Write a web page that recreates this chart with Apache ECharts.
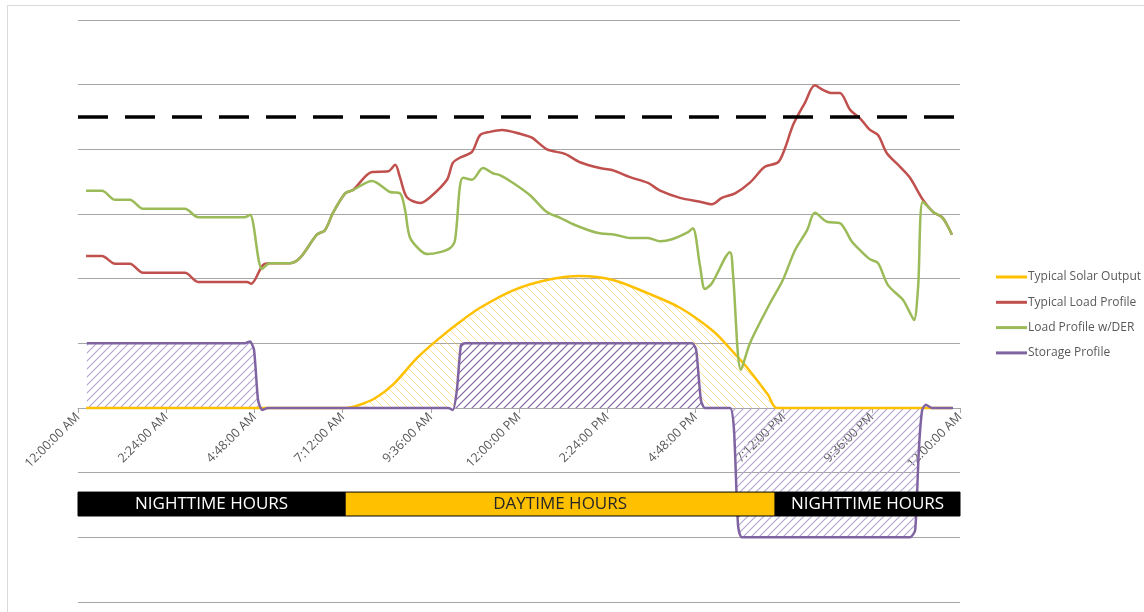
<!DOCTYPE html>
<html>
<head>
<meta charset="utf-8">
<script src="https://cdn.jsdelivr.net/npm/echarts@6/dist/echarts.min.js"></script>
<style>
  html, body { margin: 0; padding: 0; background: #fff; }
  #frame { position: absolute; left: 7px; top: 5px; width: 1150px; height: 620px; border: 1px solid #d9d9d9; }
  #main { position: absolute; left: 0; top: 0; width: 1144px; height: 612px; }
</style>
</head>
<body>
<div id="frame"></div>
<div id="main"></div>
<script>
// x = hour of the day, y = kW (arbitrary units)
var solarOutput = [
    [0.22, 0], [7.27, 0], [7.67, 0.05], [8.08, 0.15], [8.57, 0.36], [9.22, 0.77], [9.77, 1.05],
    [10.39, 1.33], [10.94, 1.55], [11.84, 1.82], [12.76, 1.98], [13.66, 2.04], [14.56, 1.98],
    [15.48, 1.78], [16.38, 1.55], [17.28, 1.19], [17.82, 0.87], [18.2, 0.63], [18.78, 0.2],
    [19.02, 0], [23.78, 0]
];
var loadProfile = [
    [0.22, 2.35], [0.65, 2.35], [1.01, 2.23], [1.41, 2.23], [1.77, 2.09], [2.91, 2.09], [3.27, 1.95],
    [4.6, 1.95], [4.71, 1.92], [5.03, 2.21], [5.22, 2.24], [5.77, 2.24], [6.04, 2.32], [6.5, 2.68],
    [6.72, 2.75], [6.94, 3.02], [7.27, 3.32], [7.48, 3.37], [8.0, 3.65], [8.44, 3.66], [8.63, 3.76],
    [8.76, 3.57], [8.95, 3.26], [9.31, 3.17], [9.58, 3.26], [10.04, 3.53], [10.2, 3.79], [10.39, 3.87],
    [10.72, 3.96], [10.94, 4.22], [11.21, 4.27], [11.54, 4.3], [12.03, 4.24], [12.35, 4.18],
    [12.76, 4.0], [13.25, 3.93], [13.66, 3.8], [14.2, 3.71], [14.53, 3.68], [15.02, 3.57],
    [15.51, 3.48], [15.84, 3.36], [16.38, 3.25], [16.93, 3.19], [17.25, 3.15], [17.52, 3.25],
    [17.88, 3.32], [18.29, 3.49], [18.69, 3.73], [19.05, 3.8], [19.24, 4.02], [19.46, 4.38],
    [19.78, 4.72], [20.05, 4.99], [20.27, 4.92], [20.52, 4.87], [20.73, 4.87], [21.01, 4.61],
    [21.28, 4.48], [21.55, 4.3], [21.77, 4.22], [22.01, 3.94], [22.37, 3.73], [22.64, 3.56],
    [22.99, 3.22], [23.27, 3.03], [23.51, 2.95], [23.65, 2.83], [23.78, 2.68]
];
var loadWithDer = [
    [0.22, 3.36], [0.65, 3.36], [1.01, 3.22], [1.41, 3.22], [1.77, 3.08], [2.91, 3.08], [3.27, 2.95],
    [4.54, 2.95], [4.68, 2.99], [5.01, 2.15], [5.22, 2.24], [5.77, 2.24], [6.04, 2.32], [6.5, 2.68],
    [6.72, 2.75], [6.94, 3.02], [7.27, 3.32], [7.48, 3.37], [8.0, 3.51], [8.49, 3.34], [8.76, 3.32],
    [8.9, 3.06], [9.03, 2.64], [9.31, 2.44], [9.52, 2.38], [9.85, 2.41], [10.12, 2.47], [10.26, 2.6],
    [10.39, 3.42], [10.48, 3.56], [10.72, 3.53], [11.02, 3.71], [11.29, 3.63], [11.48, 3.6],
    [11.84, 3.48], [12.3, 3.29], [12.76, 3.03], [13.12, 2.94], [13.52, 2.83], [14.12, 2.71],
    [14.61, 2.68], [15.02, 2.63], [15.51, 2.63], [15.84, 2.58], [16.16, 2.61], [16.6, 2.72],
    [16.73, 2.78], [16.93, 2.18], [17.06, 1.84], [17.25, 1.93], [17.74, 2.41], [17.82, 2.09],
    [18.04, 0.59], [18.29, 1.01], [18.83, 1.62], [19.18, 1.98], [19.51, 2.44], [19.84, 2.75],
    [20.05, 3.02], [20.38, 2.88], [20.73, 2.86], [21.06, 2.57], [21.28, 2.44], [21.55, 2.3],
    [21.77, 2.24], [22.04, 1.9], [22.45, 1.67], [22.64, 1.47], [22.75, 1.36], [22.86, 1.87],
    [22.99, 3.19], [23.27, 3.03], [23.51, 2.95], [23.65, 2.83], [23.78, 2.68]
];
var storageProfile = [
    [0.24, 1], [4.54, 1], [4.68, 1.03], [4.79, 0.9], [4.9, 0.12], [5.01, -0.03], [5.17, 0],
    [10.07, 0], [10.2, -0.03], [10.31, 0.28], [10.42, 0.97], [10.53, 1], [16.71, 1], [16.82, 0.9],
    [16.95, 0.12], [17.06, 0], [17.74, 0], [17.85, -0.34], [17.96, -1.81], [18.07, -2],
    [22.64, -2], [22.78, -1.89], [22.88, -0.65], [22.97, -0.03], [23.07, 0.05], [23.24, 0], [23.81, 0]
];
var peakLimit = 4.5;
// hours bands under the axis: [from, to, label]
var dayPeriods = [
    [0, 7.27, 'NIGHTTIME HOURS'],
    [7.27, 18.97, 'DAYTIME HOURS'],
    [18.97, 24, 'NIGHTTIME HOURS']
];
var bandTop = -1.3, bandBottom = -1.67;
var tickHours = 2.4;

var chargeWindow = storageProfile.filter(function (p) { return p[0] >= 10 && p[0] <= 17.1; });

// diagonal hatch pattern
function hatch(color, width, rising, bg) {
    var c = document.createElement('canvas');
    c.width = 8; c.height = 8;
    var ctx = c.getContext('2d');
    if (bg) {
        ctx.fillStyle = bg;
        ctx.fillRect(0, 0, 8, 8);
    }
    ctx.strokeStyle = color;
    ctx.lineWidth = width;
    ctx.beginPath();
    if (rising) {
        ctx.moveTo(0, 8); ctx.lineTo(8, 0);
        ctx.moveTo(-1, 1); ctx.lineTo(1, -1);
        ctx.moveTo(7, 9); ctx.lineTo(9, 7);
    } else {
        ctx.moveTo(0, 0); ctx.lineTo(8, 8);
        ctx.moveTo(7, -1); ctx.lineTo(9, 1);
        ctx.moveTo(-1, 7); ctx.lineTo(1, 9);
    }
    ctx.stroke();
    return c;
}

function fmtTime(v) {
    var mins = Math.round(v * 60);
    var h = Math.floor(mins / 60) % 24;
    var m = mins % 60;
    var ap = h < 12 ? 'AM' : 'PM';
    var h12 = h % 12 === 0 ? 12 : h % 12;
    return h12 + ':' + (m < 10 ? '0' : '') + m + ':00 ' + ap;
}

var chart = echarts.init(document.getElementById('main'));
var font = '"Open Sans", sans-serif';

// 画时段色带
function renderBand(params, api) {
    var p = dayPeriods[params.dataIndex];
    var night = p[2].indexOf('NIGHT') === 0;
    var a = api.coord([api.value(0), bandTop]);
    var b = api.coord([api.value(1), bandBottom]);
    return {
        type: 'rect',
        shape: { x: a[0], y: a[1], width: b[0] - a[0], height: b[1] - a[1] },
        style: { fill: night ? '#000' : '#FFC000', stroke: '#000', lineWidth: 1 },
        textContent: {
            style: { text: p[2], fill: night ? '#fff' : '#262626', font: '17px ' + font }
        },
        textConfig: { position: 'inside' }
    };
}

var option = {
    backgroundColor: 'transparent',
    animation: false,
    textStyle: { fontFamily: font },
    grid: { left: 78, right: 184, top: 20, bottom: 10, containLabel: false, outerBoundsMode: 'none' },
    legend: {
        data: ['Typical Solar Output', 'Typical Load Profile', 'Load Profile w/DER', 'Storage Profile'],
        orient: 'vertical',
        left: 991,
        top: 266,
        itemWidth: 31,
        itemHeight: 3,
        itemGap: 13.3,
        icon: 'rect',
        textStyle: { color: '#595959', fontSize: 12, fontFamily: font, padding: [0, 0, 0, -4] }
    },
    xAxis: {
        type: 'value',
        min: 0,
        max: 24,
        interval: tickHours,
        position: 'bottom',
        offset: -194,
        axisLine: { onZero: false, lineStyle: { color: '#a6a6a6' } },
        axisTick: { show: true, length: 5, lineStyle: { color: '#a6a6a6' } },
        splitLine: { show: false },
        axisLabel: {
            rotate: 45,
            margin: 7,
            color: '#595959',
            fontSize: 12.5,
            fontFamily: font,
            formatter: fmtTime
        }
    },
    yAxis: {
        type: 'value',
        min: -3,
        max: 6,
        interval: 1,
        axisLabel: { show: false },
        axisLine: { show: false, onZero: false },
        axisTick: { show: false },
        splitLine: { lineStyle: { color: '#a6a6a6', width: 1 } }
    },
    series: [
        {
            name: 'Typical Solar Output',
            type: 'line',
            data: solarOutput,
            smooth: 0.3,
            symbol: 'none',
            lineStyle: { color: '#FFC000', width: 2.5 },
            itemStyle: { color: '#FFC000' },
            areaStyle: { color: { image: hatch('rgba(255,200,40,0.5)', 1, false), repeat: 'repeat' }, opacity: 1 }
        },
        {
            name: 'Storage Profile',
            type: 'line',
            data: storageProfile,
            smooth: 0.2,
            symbol: 'none',
            lineStyle: { color: '#8064A2', width: 2.5 },
            itemStyle: { color: '#8064A2' },
            areaStyle: { color: { image: hatch('#b4a2d0', 1.1, true), repeat: 'repeat' }, opacity: 1 }
        },
        {
            name: 'charging',
            type: 'line',
            data: chargeWindow,
            smooth: 0.2,
            symbol: 'none',
            silent: true,
            lineStyle: { width: 0 },
            areaStyle: { color: { image: hatch('#8064A2', 1.2, true, '#fff'), repeat: 'repeat' }, opacity: 1 }
        },
        {
            name: 'Typical Load Profile',
            type: 'line',
            data: loadProfile,
            smooth: 0.3,
            symbol: 'none',
            lineStyle: { color: '#C0504D', width: 2.5 },
            itemStyle: { color: '#C0504D' },
            markLine: {
                silent: true,
                symbol: 'none',
                label: { show: false },
                lineStyle: { color: '#000', width: 3.5, type: [30, 17] },
                data: [{ yAxis: peakLimit }]
            }
        },
        {
            name: 'Load Profile w/DER',
            type: 'line',
            data: loadWithDer,
            smooth: 0.3,
            symbol: 'none',
            lineStyle: { color: '#9BBB59', width: 2.5 },
            itemStyle: { color: '#9BBB59' }
        },
        {
            name: 'hours',
            type: 'custom',
            z: 5,
            silent: true,
            renderItem: renderBand,
            encode: { x: [0, 1] },
            data: dayPeriods.map(function (d) { return [d[0], d[1]]; })
        }
    ]
};

chart.setOption(option);
</script>
</body>
</html>
